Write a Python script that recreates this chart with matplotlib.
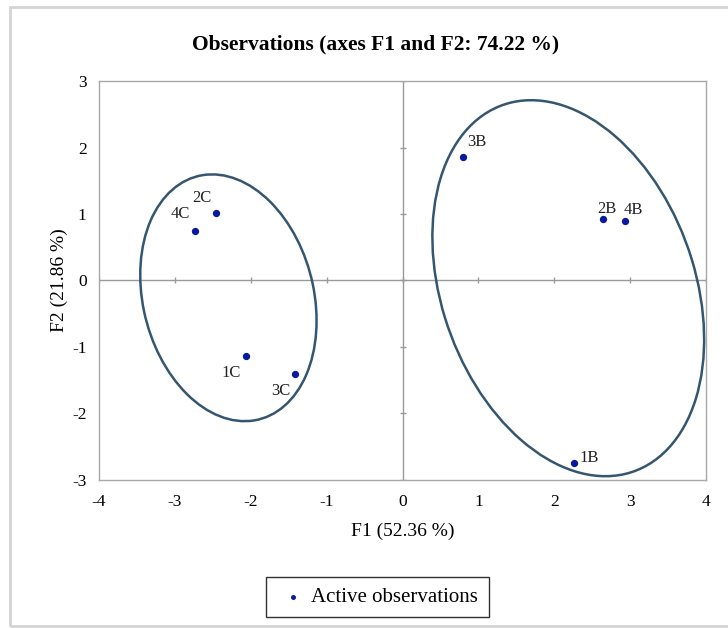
import numpy as np
import matplotlib.pyplot as plt
from matplotlib.patches import Ellipse, Rectangle

# observation scores on F1 / F2
labels = ['1B', '2B', '3B', '4B', '1C', '2C', '3C', '4C']
f1 = [2.26, 2.64, 0.80, 2.93, -2.06, -2.46, -1.42, -2.73]
f2 = [-2.75, 0.93, 1.85, 0.89, -1.14, 1.02, -1.41, 0.75]
# label offsets in points (dx, dy)
offsets = [(4, 1), (-4, 4), (3, 8), (-1, 5), (-18, -15), (-17, 8), (-17, -15), (-18, 9)]

# group ellipses: center x, center y, width, height, angle (data units)
ell_cx = [-2.295, 2.183]
ell_cy = [-0.26, -0.116]
ell_w = [3.75, 5.784]
ell_h = [2.26, 3.368]
ell_ang = [100.4, 105.0]

xticks = [-4, -3, -2, -1, 0, 1, 2, 3, 4]
yticks = [-3, -2, -1, 0, 1, 2, 3]

plt.rcParams['font.family'] = ['Liberation Serif', 'DejaVu Serif']
plt.rcParams['axes.unicode_minus'] = False

fig = plt.figure(figsize=(7.28, 6.28), dpi=100)
fig.patches.append(Rectangle((0.014, 0.003), 1.0, 0.986, transform=fig.transFigure,
                             fill=False, edgecolor='#d4d4d4', linewidth=2))
ax = fig.add_axes([0.136, 0.2357, 0.834, 0.6353])

ax.axhline(0, color='#9a9a9a', lw=1, zorder=1)
ax.axvline(0, color='#9a9a9a', lw=1, zorder=1)
ax.plot(xticks, np.zeros(len(xticks)), ls='none', marker='|', ms=5, color='#9a9a9a', zorder=1)
ax.plot(np.zeros(len(yticks)), yticks, ls='none', marker='_', ms=5, color='#9a9a9a', zorder=1)

for cx, cy, w, h, a in zip(ell_cx, ell_cy, ell_w, ell_h, ell_ang):
    ax.add_patch(Ellipse((cx, cy), w, h, angle=a, fill=False,
                         edgecolor='#34566f', linewidth=1.8, zorder=2))

ax.scatter(f1, f2, s=18, color='#0a1aa0', zorder=3, label='Active observations')
for lab, x, y, (dx, dy) in zip(labels, f1, f2, offsets):
    ax.annotate(lab, (x, y), xytext=(dx, dy), textcoords='offset points',
                fontsize=12, color='#222222')

ax.set_xlim(-4, 4)
ax.set_ylim(-3, 3)
ax.set_xticks(xticks)
ax.set_yticks(yticks)
ax.tick_params(axis='x', length=0, labelsize=12.5, pad=10)
ax.tick_params(axis='y', length=0, labelsize=12.5, pad=9)
for s in ax.spines.values():
    s.set_color('#a8a8a8')
    s.set_linewidth(1)

ax.set_xlabel('F1 (52.36 %)', fontsize=14, labelpad=9)
ax.set_ylabel('F2 (21.86 %)', fontsize=14, labelpad=3)
fig.text(0.516, 0.929, 'Observations (axes F1 and F2: 74.22 %)', ha='center',
         va='center', fontsize=15.5, fontweight='bold')

leg = fig.legend(loc='center', bbox_to_anchor=(0.518, 0.049), fontsize=15,
                 markerscale=0.6, handlelength=1.6, handletextpad=0.1,
                 borderpad=0.5, borderaxespad=0, fancybox=False, framealpha=1)
leg.get_frame().set_edgecolor('#333333')
leg.get_frame().set_linewidth(1)

fig.savefig('out.png', dpi=100)
